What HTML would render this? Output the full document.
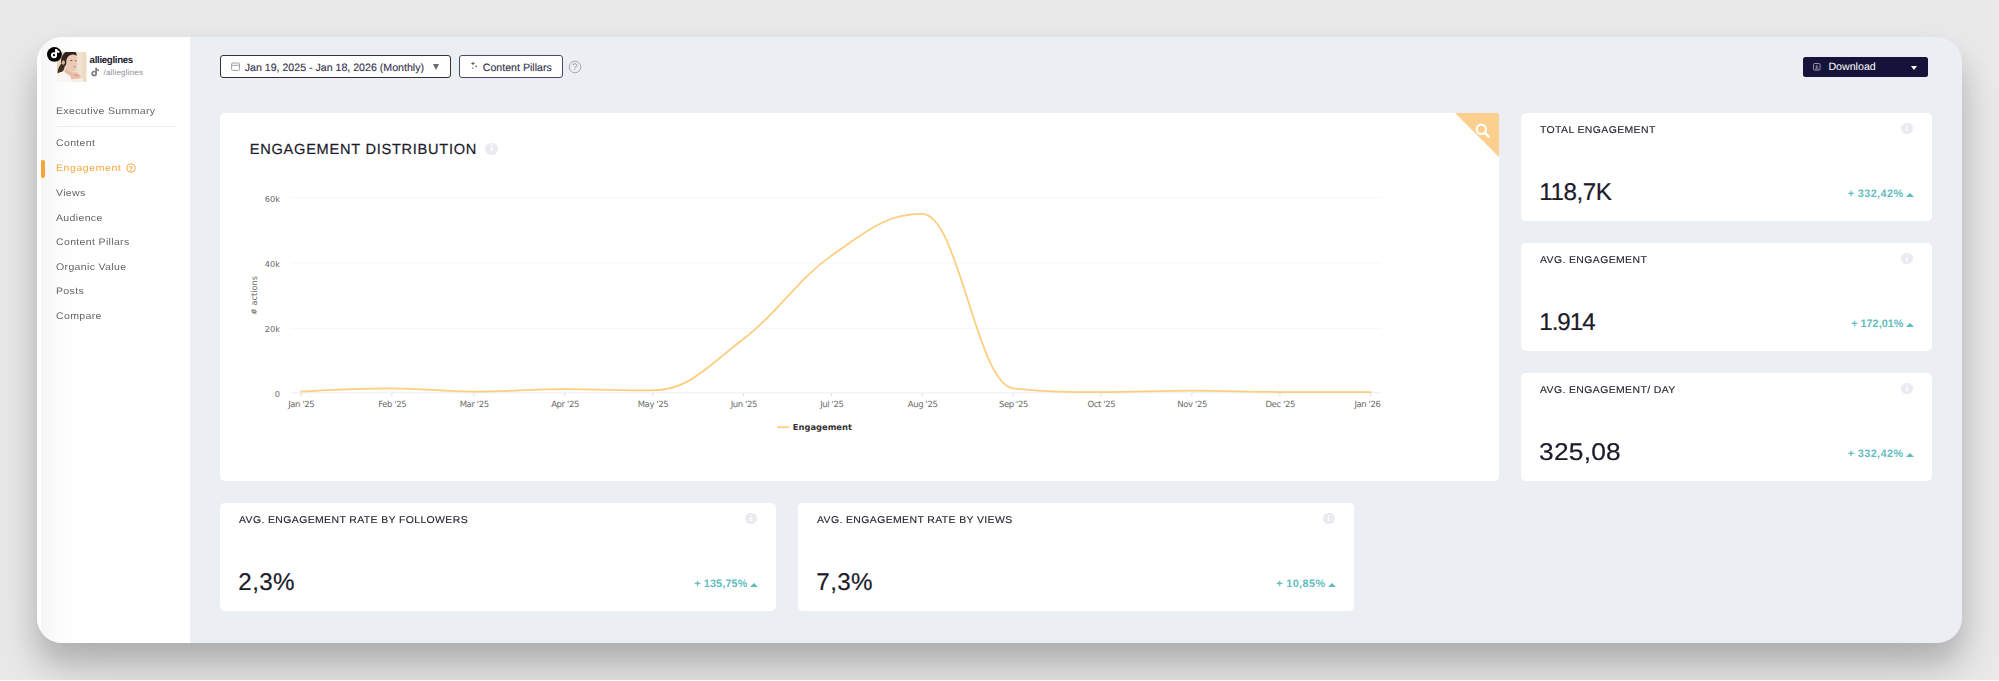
<!DOCTYPE html>
<html lang="en">
<head>
<meta charset="utf-8">
<title>Engagement</title>
<style>
*{box-sizing:border-box;margin:0;padding:0}
html,body{width:1999px;height:681px;overflow:hidden}
body{position:relative;text-rendering:geometricPrecision;background:#e9e9e9;font-family:"Liberation Sans",sans-serif;color:#1c1b2b}
.abs{position:absolute}
#win{position:absolute;left:37px;top:37px;width:1925px;height:606px;border-radius:25px;background:#ebeef3;
 box-shadow:0 20px 30px rgba(0,0,0,.2),0 30px 60px rgba(0,0,0,.08);overflow:hidden}
#side{position:absolute;left:0;top:0;width:153px;height:606px;background:linear-gradient(90deg,#fff 0,#fff 4px,#f5f5f5 4.6px,#fcfcfc 20px,#fff 44px)}
.nm{position:absolute;left:52.6px;top:17.6px;font-weight:bold;font-size:9.7px;letter-spacing:-.32px;line-height:11px;color:#1c1b2b;white-space:nowrap}
.hd{position:absolute;left:66.5px;top:30.5px;font-size:8px;line-height:10px;color:#8d8c96;white-space:nowrap;letter-spacing:.19px}
.mi{position:absolute;left:18.7px;margin-top:1.2px;font-size:9.5px;line-height:14px;color:#666;white-space:nowrap;letter-spacing:.3px;transform:scaleX(1.11);transform-origin:0 0}
.mi.on{color:#f5a63b}
.btn{position:absolute;top:18.3px;height:22.7px;background:#fff;border:1.3px solid #333;border-radius:3px;font-size:10.62px;line-height:20px;color:#34324a;-webkit-text-stroke:.12px #34324a;white-space:nowrap}
.card{position:absolute;background:#fff;border-radius:5px}
.ct{position:absolute;left:19px;top:11.8px;font-size:9.9px;line-height:12px;color:#24232f;white-space:nowrap;letter-spacing:.35px;-webkit-text-stroke:.12px #24232f;transform:scaleX(1.06);transform-origin:0 0}
.cv{position:absolute;left:18.3px;top:67.1px;-webkit-text-stroke:.2px #1c1b2b;font-size:24.2px;line-height:26px;color:#1c1b2b;white-space:nowrap}
.cd{position:absolute;right:18.2px;top:75.3px;font-size:10.8px;line-height:12px;font-weight:bold;color:#62bdbe;white-space:nowrap;letter-spacing:.42px}
.cd i{display:inline-block;width:0;height:0;border-left:4.4px solid transparent;border-right:4.4px solid transparent;border-bottom:4.6px solid #5fbcbd;margin-left:2.9px;margin-right:-.5px;vertical-align:.2px}
.inf{position:absolute;right:19.5px;top:9.6px;width:11.6px;height:11.6px;border-radius:50%;background:#e9ebf0;color:#fff;font-family:"Liberation Serif",serif;font-weight:bold;font-size:9px;line-height:11.6px;text-align:center}
</style>
</head>
<body>
<div id="win">
  <div id="side">
    <!-- avatar -->
    <svg class="abs" style="left:20px;top:15px" width="29.5" height="30" viewBox="0 0 29.5 30">
      <defs><filter id="b1" x="-20%" y="-20%" width="140%" height="140%"><feGaussianBlur stdDeviation="0.5"/></filter>
      <clipPath id="ac"><rect width="29.5" height="30"/></clipPath></defs>
      <g clip-path="url(#ac)">
        <rect width="30" height="30" fill="#eddbc5"/>
        <g filter="url(#b1)">
          <rect x="-2" y="-2" width="9" height="24" fill="#e9d3ba"/>
          <rect x="20" y="-2" width="5" height="34" fill="#f1e2d0"/>
          <path d="M4 9.5 C3.8 3 8.5 -2 15 -1.5 C18 -1.2 19.5 0.8 19.8 3.4 C15.5 3.2 11.8 5.5 10.2 9.5 C9.6 11.5 9 13 8 14.5 C6.5 13 4.3 12 4 9.5Z" fill="#33241d"/>
          <path d="M5 11 C7.5 11.5 8 13.5 7.5 15.5 C7 18.5 4.5 21 1.2 22 C0 19 1.5 14.5 5 11Z" fill="#3f2d23"/>
          <path d="M9.3 10 C9.2 5.5 12.5 2.3 16.5 2.6 C19.5 2.9 20.3 6 20 10 C19.8 13 19.5 16.5 17.5 18.5 C15.5 20 12.5 19 10.8 16.5 C9.8 14.5 9.4 12.5 9.3 10Z" fill="#ebc9b4"/>
          <ellipse cx="6.4" cy="10.5" rx="1.5" ry="2.2" fill="#deb29a"/>
          <path d="M9.5 15 C10.5 18 13 20 15.5 20 L15 23 C12 24 8.5 22.5 7.5 20.5Z" fill="#e3bca5"/>
          <path d="M-1 31 L-1 23.5 C1 20.5 4.5 19 7.5 20 C10 21.5 12.5 23.5 14 26 C15 28 15.5 29.5 15.5 31Z" fill="#f8f5f2"/>
          <path d="M13 23 C14.5 20 18.5 19.5 21 21 C23.5 22.5 24.5 25.5 23 27.5 C21 28.8 17 28.5 14.5 27.5Z" fill="#e9bfa6"/>
          <path d="M17 23.5 C18.5 22.5 20.5 23 21.5 24.5" stroke="#d89a8a" stroke-width="1.1" fill="none"/>
          <path d="M14.5 27.5 L25.5 26 L27 31 L14 31Z" fill="#f5efe9"/>
          <path d="M13.3 8.6 L15.3 8.4 M17.9 8.7 L19.3 8.7" stroke="#6b4f45" stroke-width="1"/>
          <path d="M16.7 14.4 C17.3 14.9 18.2 14.9 18.8 14.3" stroke="#cf8f86" stroke-width="1.1" fill="none"/>
        </g>
      </g>
    </svg>
    <svg class="abs" style="left:10px;top:10px" width="14.8" height="14.8" viewBox="0 0 15 15">
      <circle cx="7.5" cy="7.5" r="7.5" fill="#000"/>
      <circle cx="7.1" cy="8.3" r="2.1" fill="none" stroke="#fff" stroke-width="2"/>
      <path d="M9.2 2.1 V8.3" stroke="#fff" stroke-width="1.9" fill="none"/>
      <path d="M9.2 2.2 C9.6 3.9 10.8 4.9 12.6 5.1" stroke="#fff" stroke-width="1.9" fill="none"/>
    </svg>
    <div class="nm">allieglines</div>
    <svg class="abs" style="left:54px;top:30px" width="9" height="10" viewBox="0 0 9 10">
      <circle cx="3.2" cy="6.5" r="2" fill="none" stroke="#7f7d8a" stroke-width="1.7"/>
      <path d="M5.1 .7 V6.5" stroke="#7f7d8a" stroke-width="1.6" fill="none"/>
      <path d="M5.1 .8 C5.4 2.4 6.4 3.3 8 3.5" stroke="#7f7d8a" stroke-width="1.6" fill="none"/>
    </svg>
    <div class="hd">/allieglines</div>

    <div class="mi" style="top:66.5px">Executive Summary</div>
    <div class="abs" style="left:19.5px;top:89px;width:119px;height:1px;background:#ececec"></div>
    <div class="mi" style="top:99.2px">Content</div>
    <div class="abs" style="left:4.3px;top:123px;width:3.5px;height:17.6px;border-radius:1.5px 2px 2px 1.5px;background:#f3a53a"></div>
    <div class="mi on" style="top:123.7px;letter-spacing:.5px">Engagement</div>
    <svg class="abs" style="left:89.4px;top:125.8px" width="10" height="10" viewBox="0 0 10 10"><circle cx="5" cy="5" r="4.1" fill="none" stroke="#f5a63b" stroke-width="1"/><text x="5" y="7.5" font-size="7" font-weight="bold" text-anchor="middle" fill="#f5a63b" font-family="Liberation Sans, sans-serif">?</text></svg>
    <div class="mi" style="top:148.6px">Views</div>
    <div class="mi" style="top:173.9px">Audience</div>
    <div class="mi" style="top:197.7px">Content Pillars</div>
    <div class="mi" style="top:223.1px">Organic Value</div>
    <div class="mi" style="top:246.8px">Posts</div>
    <div class="mi" style="top:272.1px">Compare</div>
  </div>

  <!-- toolbar -->
  <div class="btn" style="left:182.5px;width:231.5px">
    <svg class="abs" style="left:10.4px;top:5.6px" width="10" height="9" viewBox="0 0 10 9"><rect x=".6" y="1" width="7.9" height="7.4" rx="1" fill="none" stroke="#9a9a9a" stroke-width=".9"/><path d="M.6 3.3 H8.5" stroke="#9a9a9a" stroke-width=".9"/></svg>
    <span class="abs" style="left:24.2px;top:1.5px">Jan 19, 2025 - Jan 18, 2026 (Monthly)</span>
    <span class="abs" style="left:212.6px;top:8.2px;width:0;height:0;border-left:3.8px solid transparent;border-right:3.8px solid transparent;border-top:6.2px solid #6a6a6a"></span>
  </div>
  <div class="btn" style="left:421.5px;width:104.5px;border-color:#4a4866">
    <svg class="abs" style="left:10.5px;top:4.5px" width="9" height="10" viewBox="0 0 9 10"><path d="M3 .8 V4.2 M1.3 2.5 H4.7" stroke="#555" stroke-width=".9"/><circle cx="6.2" cy="5.3" r=".9" fill="#666"/><circle cx="2.6" cy="7.2" r=".8" fill="#777"/></svg>
    <span class="abs" style="left:23.3px;top:1.5px">Content Pillars</span>
  </div>
  <svg class="abs" style="left:530.5px;top:22.5px" width="14" height="14" viewBox="0 0 14 14"><circle cx="7" cy="7" r="5.8" fill="none" stroke="#a9a9b1" stroke-width="1"/><text x="7" y="10.3" font-size="9.5" text-anchor="middle" fill="#9c9ca6" font-family="Liberation Sans, sans-serif">?</text></svg>

  <div class="abs" style="left:1766px;top:19.5px;width:125px;height:20.5px;background:#16133a;border-radius:2.5px;color:#fff;font-size:10.8px;line-height:20.5px">
    <svg class="abs" style="left:10.2px;top:6.8px" width="7.6" height="7.6" viewBox="0 0 9 9"><rect x=".6" y=".6" width="7.8" height="7.8" rx="1.4" fill="none" stroke="#a9a8c0" stroke-width="1"/><path d="M4.5 2.2 V5.4 M3 4.1 L4.5 5.6 L6 4.1 M2.6 6.9 H6.4" fill="none" stroke="#b5b4c8" stroke-width=".9"/></svg>
    <span class="abs" style="left:25.4px;top:.6px;font-size:10.65px">Download</span>
    <span class="abs" style="left:108px;top:9px;width:0;height:0;border-left:3.3px solid transparent;border-right:3.3px solid transparent;border-top:4.1px solid #fff"></span>
  </div>

  <!-- chart card -->
  <div class="card" id="chart" style="left:183px;top:76px;width:1278.5px;height:367.5px;overflow:hidden;border-top-right-radius:2px">
    <div class="abs" style="right:0;top:0;width:0;height:0;border-top:44.5px solid #fbd08f;border-left:44.5px solid transparent"></div>
    <svg class="abs" style="right:7.3px;top:9px" width="17.5" height="17.5" viewBox="0 0 16 16"><circle cx="6.7" cy="6.7" r="4.3" fill="none" stroke="#fff" stroke-width="1.9"/><path d="M10 10 L13.4 13.4" stroke="#fff" stroke-width="2.2" stroke-linecap="round"/></svg>
    <div class="abs" style="left:29.8px;top:28px;font-size:14.6px;line-height:18px;letter-spacing:.73px;color:#1c1b2b;white-space:nowrap;-webkit-text-stroke:.22px #1c1b2b">ENGAGEMENT DISTRIBUTION</div>
    <div class="inf" style="left:265.2px;right:auto;top:29.5px;width:12.8px;height:12.8px;line-height:12.8px;font-size:10px">i</div>
  </div>
  <!-- chart svg in page coordinates -->
  <svg class="abs" style="left:183px;top:76px" width="1278" height="367" viewBox="220 113 1278 367" font-family="DejaVu Sans, sans-serif">
    <g stroke="#f7f7f7" stroke-width="1">
      <path d="M291 197.8 H1381 M291 263.2 H1381 M291 328.5 H1381"/>
    </g>
    <path d="M291 392.8 H1381" stroke="#ebeef6" stroke-width="1"/>
    <g stroke="#d9e0f0" stroke-width="1">
      <path d="M301 393 V396.5 M391.9 393 V396.5 M473.9 393 V396.5 M564.8 393 V396.5 M652.7 393 V396.5 M743.5 393 V396.5 M831.5 393 V396.5 M922.3 393 V396.5 M1013.2 393 V396.5 M1101 393 V396.5 M1191.9 393 V396.5 M1279.9 393 V396.5 M1370.7 393 V396.5"/>
    </g>
    <g font-size="8.2" fill="#666" text-anchor="end">
      <text x="280" y="202.2">60k</text>
      <text x="280" y="267">40k</text>
      <text x="280" y="331.8">20k</text>
      <text x="280" y="396.6">0</text>
    </g>
    <text transform="translate(257.2 295.5) rotate(-90)" font-size="8.2" fill="#666" text-anchor="middle"># actions</text>
    <g font-size="8.5" fill="#6c6c6c" text-anchor="middle" letter-spacing="-.4">
      <text x="301.3" y="406.7">Jan '25</text>
      <text x="392.2" y="406.7">Feb '25</text>
      <text x="474.2" y="406.7">Mar '25</text>
      <text x="565.1" y="406.7">Apr '25</text>
      <text x="653" y="406.7">May '25</text>
      <text x="743.8" y="406.7">Jun '25</text>
      <text x="831.8" y="406.7">Jul '25</text>
      <text x="922.6" y="406.7">Aug '25</text>
      <text x="1013.5" y="406.7">Sep '25</text>
      <text x="1101.3" y="406.7">Oct '25</text>
      <text x="1192.2" y="406.7">Nov '25</text>
      <text x="1280.2" y="406.7">Dec '25</text>
      <text x="1367.5" y="406.7">Jan '26</text>
    </g>
    <path d="M301.0 391.6 C301.0 391.6 355.5 388.3 391.9 388.3 C424.7 388.3 441.1 391.6 473.9 391.6 C510.3 391.6 528.4 389.2 564.8 389.2 C600.0 389.2 617.5 390.4 652.7 390.4 C689.0 390.4 707.2 366.4 743.5 339.0 C778.7 312.5 796.3 280.2 831.5 255.6 C867.8 230.2 886.0 214.0 922.3 214.0 C958.7 214.0 976.8 384.6 1013.2 388.3 C1048.3 392.0 1065.9 392.0 1101.0 392.0 C1137.4 392.0 1155.5 390.6 1191.9 390.6 C1227.1 390.6 1244.7 391.8 1279.9 392.0 C1316.2 392.2 1370.7 392.2 1370.7 392.2" fill="none" stroke="#fdce7e" stroke-width="1.75" stroke-linecap="round" stroke-linejoin="round"/>
    <path d="M777.2 427.2 H789.2" stroke="#fdce7e" stroke-width="1.8"/>
    <text x="792.8" y="430.2" font-size="8.35" font-weight="bold" fill="#333">Engagement</text>
  </svg>

  <!-- right cards -->
  <div class="card" style="left:1484px;top:76px;width:411px;height:107.5px">
    <div class="ct">TOTAL ENGAGEMENT</div><div class="inf">i</div>
    <div class="cv" style="letter-spacing:-.45px">118,7K</div><div class="cd">+ 332,42%<i></i></div>
  </div>
  <div class="card" style="left:1484px;top:206px;width:411px;height:107.5px">
    <div class="ct">AVG. ENGAGEMENT</div><div class="inf">i</div>
    <div class="cv" style="letter-spacing:-1.05px">1.914</div><div class="cd" style="letter-spacing:.04px">+ 172,01%<i></i></div>
  </div>
  <div class="card" style="left:1484px;top:336px;width:411px;height:107.5px">
    <div class="ct">AVG. ENGAGEMENT/ DAY</div><div class="inf">i</div>
    <div class="cv" style="letter-spacing:.2px;transform:scaleX(1.09);transform-origin:0 0">325,08</div><div class="cd">+ 332,42%<i></i></div>
  </div>

  <!-- bottom cards -->
  <div class="card" style="left:183px;top:466px;width:556px;height:107.5px">
    <div class="ct">AVG. ENGAGEMENT RATE BY FOLLOWERS</div><div class="inf">i</div>
    <div class="cv" style="letter-spacing:.4px">2,3%</div><div class="cd" style="letter-spacing:.14px">+ 135,75%<i></i></div>
  </div>
  <div class="card" style="left:761px;top:466px;width:556px;height:107.5px">
    <div class="ct">AVG. ENGAGEMENT RATE BY VIEWS</div><div class="inf">i</div>
    <div class="cv" style="letter-spacing:.4px">7,3%</div><div class="cd">+ 10,85%<i></i></div>
  </div>
</div>
<div class="abs" style="left:0;top:680px;width:1999px;height:1px;background:#fdfdfd"></div>
</body>
</html>
